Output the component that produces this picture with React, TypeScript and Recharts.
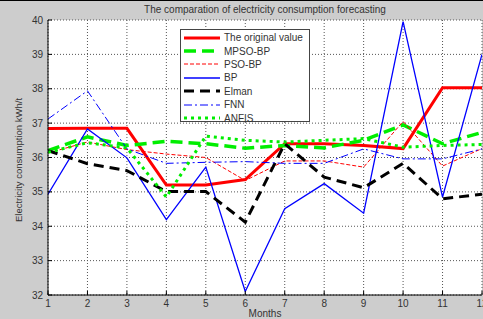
import React from 'react'
import { LineChart, Line, XAxis, YAxis, CartesianGrid } from 'recharts'

const MONTHS = [1, 2, 3, 4, 5, 6, 7, 8, 9, 10, 11, 12]
const Y_TICKS = [32, 33, 34, 35, 36, 37, 38, 39, 40]

const ORIGINAL = [36.84, 36.85, 36.85, 35.2, 35.2, 35.36, 36.4, 36.4, 36.35, 36.26, 38.03, 38.03]
const MPSO_BP = [36.2, 36.6, 36.35, 36.47, 36.4, 36.27, 36.35, 36.28, 36.5, 36.95, 36.4, 36.73]
const PSO_BP = [36.13, 36.45, 36.23, 36.1, 36.0, 35.33, 35.9, 35.9, 35.72, 37.05, 35.75, 36.26]
const BP = [34.93, 36.83, 35.99, 34.19, 35.72, 32.1, 34.51, 35.24, 34.38, 39.95, 34.85, 39.0]
const ELMAN = [36.2, 35.82, 35.62, 35.01, 35.01, 34.12, 36.4, 35.43, 35.12, 35.83, 34.8, 34.93]
const FNN = [37.12, 37.94, 36.25, 35.83, 35.86, 35.88, 35.83, 35.83, 36.25, 35.96, 35.96, 36.25]
const ANFIS = [36.15, 36.43, 36.28, 34.85, 36.62, 36.5, 36.45, 36.5, 36.55, 36.3, 36.35, 36.38]

const SERIES = [
  { key: 'orig', name: 'The original value', color: '#ff0000', width: 3, dash: undefined },
  { key: 'mpso', name: 'MPSO-BP', color: '#00ee00', width: 3.5, dash: '12 6' },
  { key: 'pso', name: 'PSO-BP', color: '#ff0000', width: 1, dash: '4 2' },
  { key: 'bp', name: 'BP', color: '#0000ff', width: 1.3, dash: undefined },
  { key: 'elman', name: 'Elman', color: '#000000', width: 3, dash: '10 6' },
  { key: 'fnn', name: 'FNN', color: '#0000ff', width: 1, dash: '8 3 2 3' },
  { key: 'anfis', name: 'ANFIS', color: '#00ee00', width: 3, dash: '3 4' },
]

const data = MONTHS.map((m, i) => ({
  m,
  orig: ORIGINAL[i],
  mpso: MPSO_BP[i],
  pso: PSO_BP[i],
  bp: BP[i],
  elman: ELMAN[i],
  fnn: FNN[i],
  anfis: ANFIS[i],
}))

const FONT = 'Arial, "Liberation Sans", sans-serif'

// matlab-style legend box, top middle of the axes
function LegendBox() {
  return (
    <div style={{ position: 'absolute', left: 180, top: 28, background: '#fff', border: '1px solid #444',
      width: 130, height: 93, boxSizing: 'border-box', padding: '1px 0 0 0', fontFamily: FONT,
      fontSize: 10, color: '#333' }}>
      {SERIES.map(s => (
        <div key={s.key} style={{ display: 'flex', alignItems: 'center', height: 13.4 }}>
          <svg width={40} height={8} style={{ marginLeft: 2 }}>
            <line x1={1} y1={4} x2={37} y2={4} stroke={s.color} strokeWidth={s.width}
              strokeDasharray={s.dash} />
          </svg>
          <span style={{ marginLeft: 1 }}>{s.name}</span>
        </div>
      ))}
    </div>
  )
}

export default function App() {
  return (
    <div style={{ position: 'absolute', left: 0, top: 0, width: 483, height: 319,
      background: '#cdcdcd', borderTop: '1px solid #000', boxSizing: 'border-box', fontFamily: FONT }}>
      <div style={{ position: 'absolute', left: 48, width: 434, top: 3, textAlign: 'center',
        fontSize: 10, color: '#333' }}>
        The comparation of electricity consumption forecasting
      </div>
      <div style={{ position: 'absolute', left: 18, top: 159, transform: 'translate(-50%, -50%) rotate(-90deg)',
        whiteSpace: 'nowrap', fontSize: 9.5, color: '#333' }}>
        Electricity consumption kWh/t
      </div>
      <div style={{ position: 'absolute', left: 48, width: 434, top: 307, textAlign: 'center',
        fontSize: 10, color: '#333' }}>
        Months
      </div>
      <div style={{ position: 'absolute', left: 0, top: -1 }}>
        <LineChart width={483} height={319} data={data}
          margin={{ top: 20, right: 1, left: 18, bottom: 4 }}>
          <CartesianGrid stroke="#555" strokeDasharray="1 2" fill="#fff" />
          <XAxis dataKey="m" type="number" domain={[1, 12]} ticks={MONTHS} height={20}
            axisLine={{ stroke: '#000' }} tickLine={{ stroke: '#000' }} tickSize={-4} tickMargin={9}
            tick={{ fontSize: 10, fill: '#333' }} interval={0} allowDataOverflow />
          <YAxis type="number" domain={[32, 40]} ticks={Y_TICKS} width={30}
            axisLine={{ stroke: '#000' }} tickLine={{ stroke: '#000' }} tickSize={-4} tickMargin={9}
            tick={{ fontSize: 10, fill: '#333' }} interval={0} allowDataOverflow />
          {SERIES.map(s => (
            <Line key={s.key} dataKey={s.key} name={s.name} stroke={s.color}
              strokeWidth={s.width} strokeDasharray={s.dash} dot={false}
              isAnimationActive={false} />
          ))}
        </LineChart>
      </div>
      <LegendBox />
    </div>
  )
}
